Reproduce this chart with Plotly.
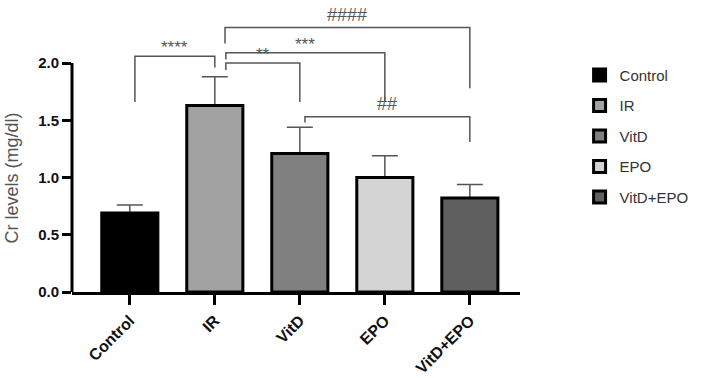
import plotly.graph_objects as go

categories = ["Control", "IR", "VitD", "EPO", "VitD+EPO"]
means = [0.69, 1.63, 1.21, 1.00, 0.82]
sd_upper = [0.07, 0.25, 0.23, 0.19, 0.12]
colors = ["#000000", "#a2a2a2", "#808080", "#d4d4d4", "#5f5f5f"]

# significance comparisons: (left idx, right idx, label, bracket top, left leg bottom, right leg bottom, left x offset)
comparisons = [
    (0, 1, "****", 2.06, 1.66, 1.96, 0.06),
    (1, 2, "**", 2.00, 1.94, 1.66, 0.13),
    (1, 3, "***", 2.09, 2.03, 1.66, 0.13),
    (1, 4, "####", 2.31, 2.17, 1.78, 0.12),
    (2, 4, "##", 1.53, 1.48, 1.31, 0.06),
]

FONT = "Liberation Sans, Arial, sans-serif"

fig = go.Figure()
# error bars first (drawn beneath the bars so the lower cap is hidden)
for i, (m, e) in enumerate(zip(means, sd_upper)):
    fig.add_trace(go.Bar(
        x=[i], y=[m], width=0.66, showlegend=False, hoverinfo="skip",
        marker=dict(color="rgba(0,0,0,0)", line=dict(width=0)),
        error_y=dict(type="data", array=[e], arrayminus=[0], symmetric=False,
                     color="#555555", thickness=1.5, width=13),
    ))
for i, (c, m, col) in enumerate(zip(categories, means, colors)):
    fig.add_trace(go.Bar(
        x=[i], y=[m], name=c, width=0.66,
        marker=dict(color=col, line=dict(color="#000000", width=3)),
        legendgroup=c,
    ))

shapes = []
annotations = []
for (a, b, lab, top, lb, rb, off) in comparisons:
    xl = a + off
    xr = b
    pts = [(xl, lb), (xl, top), (xr, top), (xr, rb)]
    path = "M " + " L ".join(f"{x},{y}" for x, y in pts)
    shapes.append(dict(type="path", path=path, xref="x", yref="y",
                       line=dict(color="#555555", width=1.5)))
    is_hash = lab.startswith("#")
    annotations.append(dict(x=(xl + xr) / 2, y=top, xref="x", yref="y",
                            text=lab, showarrow=False, yanchor="bottom",
                            yshift=1 if is_hash else -3,
                            font=dict(family=FONT, size=18 if is_hash else 17,
                                      color="#555555")))

# y axis title centred on the 0-2 axis line
annotations.append(dict(x=-0.134, y=1.0, xref="paper", yref="y",
                        text="Cr levels (mg/dl)", textangle=-90, showarrow=False,
                        xanchor="center", yanchor="middle",
                        font=dict(family=FONT, size=18, color="#555555")))

# y axis line from 0 to 2.0 only
shapes.append(dict(type="line", xref="paper", yref="y", x0=0, x1=0, y0=0, y1=2.0,
                   line=dict(color="#000000", width=3)))

fig.update_layout(
    width=708, height=378,
    margin=dict(l=72, r=188, t=2, b=86),
    paper_bgcolor="white", plot_bgcolor="white",
    barmode="overlay",
    font=dict(family=FONT),
    showlegend=True,
    legend=dict(x=1.133, y=0.804, xanchor="left", yanchor="top",
                font=dict(family=FONT, size=15, color="#333333"),
                tracegroupgap=8, itemwidth=30),
    shapes=shapes,
    annotations=annotations,
    xaxis=dict(range=[-0.68, 4.59], tickvals=list(range(len(categories))),
               ticktext=categories, tickangle=-45, automargin=False,
               tickfont=dict(family=FONT, size=16, color="#111111", weight="bold"),
               showline=True, linecolor="#000000", linewidth=3,
               ticks="outside", ticklen=10, tickwidth=3, tickcolor="#000000",
               showgrid=False, zeroline=False),
    yaxis=dict(range=[0, 2.533], tickvals=[0, 0.5, 1.0, 1.5, 2.0],
               ticktext=["0.0", "0.5", "1.0", "1.5", "2.0"], automargin=False,
               tickfont=dict(family=FONT, size=15, color="#111111", weight="bold"),
               showline=False, ticks="outside", ticklen=9, tickwidth=3,
               tickcolor="#000000", showgrid=False, zeroline=False),
)

fig.write_html("out.html", config={"displayModeBar": False},
               post_script="document.body.style.margin='0';")
